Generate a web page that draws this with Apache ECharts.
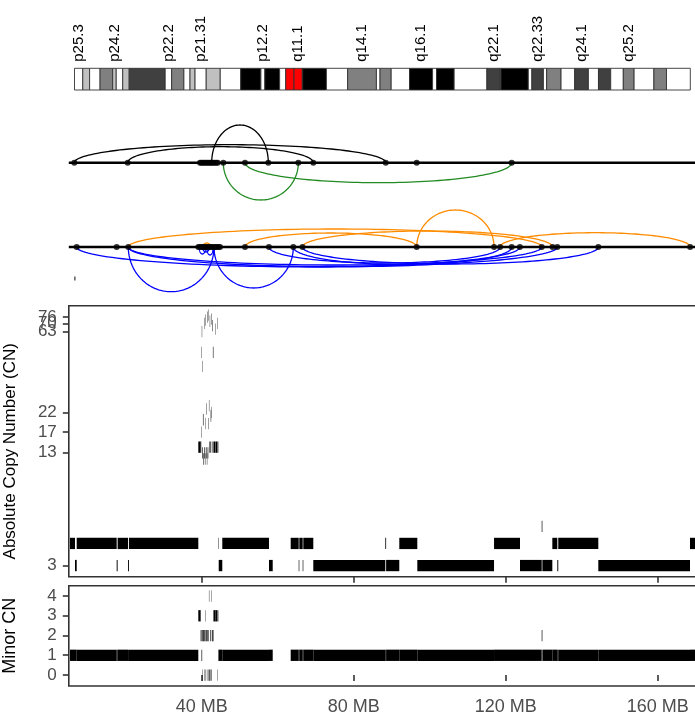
<!DOCTYPE html>
<html><head><meta charset="utf-8">
<script src="https://cdn.jsdelivr.net/npm/echarts@6/dist/echarts.min.js"></script>
<style>html,body{margin:0;padding:0;background:#fff}#c{width:695px;height:720px}</style>
</head><body><div id="c"></div>
<script>
const FONT = "'Liberation Sans', Arial, Helvetica, sans-serif";

// ---------- Ideogram (chr6, MB) ----------
const chrLength = 171.115;
const ideoBands = [
  [0, 2.3, 'p25.3', 'gneg'], [2.3, 4.2, 'p25.2', 'gpos25'], [4.2, 7.1, 'p25.1', 'gneg'],
  [7.1, 10.6, 'p24.3', 'gpos50'], [10.6, 11.6, 'p24.2', 'gpos25'], [11.6, 13.4, 'p24.1', 'gneg'],
  [13.4, 15.2, 'p23', 'gpos25'], [15.2, 25.2, 'p22.3', 'gpos75'], [25.2, 27.0, 'p22.2', 'gneg'],
  [27.0, 30.4, 'p22.1', 'gpos50'], [30.4, 32.1, 'p21.33', 'gneg'], [32.1, 33.5, 'p21.32', 'gpos25'],
  [33.5, 36.6, 'p21.31', 'gneg'], [36.6, 40.5, 'p21.2', 'gpos25'], [40.5, 46.2, 'p21.1', 'gneg'],
  [46.2, 51.8, 'p12.3', 'gpos100'], [51.8, 52.9, 'p12.2', 'gneg'], [52.9, 57.0, 'p12.1', 'gpos100'],
  [57.0, 58.7, 'p11.2', 'gneg'], [58.7, 61.0, 'p11.1', 'acen'], [61.0, 63.3, 'q11.1', 'acen'],
  [63.3, 63.4, 'q11.2', 'gneg'], [63.4, 70.0, 'q12', 'gpos100'], [70.0, 75.9, 'q13', 'gneg'],
  [75.9, 83.9, 'q14.1', 'gpos50'], [83.9, 84.9, 'q14.2', 'gneg'], [84.9, 88.0, 'q14.3', 'gpos50'],
  [88.0, 93.1, 'q15', 'gneg'], [93.1, 99.5, 'q16.1', 'gpos100'], [99.5, 100.6, 'q16.2', 'gneg'],
  [100.6, 105.5, 'q16.3', 'gpos100'], [105.5, 114.6, 'q21', 'gneg'], [114.6, 118.3, 'q22.1', 'gpos75'],
  [118.3, 118.5, 'q22.2', 'gneg'], [118.5, 126.1, 'q22.31', 'gpos100'], [126.1, 127.1, 'q22.32', 'gneg'],
  [127.1, 130.3, 'q22.33', 'gpos75'], [130.3, 131.2, 'q23.1', 'gneg'], [131.2, 135.2, 'q23.2', 'gpos50'],
  [135.2, 139.0, 'q23.3', 'gneg'], [139.0, 142.8, 'q24.1', 'gpos75'], [142.8, 145.6, 'q24.2', 'gneg'],
  [145.6, 149.0, 'q24.3', 'gpos75'], [149.0, 152.5, 'q25.1', 'gneg'], [152.5, 155.5, 'q25.2', 'gpos50'],
  [155.5, 161.0, 'q25.3', 'gneg'], [161.0, 164.5, 'q26', 'gpos50'], [164.5, 171.115, 'q27', 'gneg']
];
const labeledBands = ['p25.3','p24.2','p22.2','p21.31','p12.2','q11.1','q14.1','q16.1','q22.1','q22.33','q24.1','q25.2'];
const stainColors = {gneg:'#ffffff', gpos25:'#c0c0c0', gpos50:'#808080', gpos75:'#404040', gpos100:'#000000', acen:'#ff0000'};

// ---------- shared genomic x axis (MB) ----------
const xRange = [5.0, 171.1];
const xTicks = [40, 80, 120, 160];

// ---------- SV track 1: inversions ----------
const svUpperPoints = [6.45, 20.5, 39.53, 39.9, 40.3, 40.7, 41.1, 41.5, 41.89, 42.25, 42.6, 43.0, 43.4, 43.8, 44.2, 45.66,
  51.37, 57.5, 65.4, 69.34, 88.4, 96.55, 121.55];
const h2hInvArcs = [ [6.45, 88.4, 18], [20.5, 69.34, 16], [42.6, 57.5, 37.7] ];      // pos1, pos2, arc height
const t2tInvArcs = [ [45.66, 65.4, 37.3], [51.37, 121.55, 20] ];

// ---------- SV track 2: deletions / duplications ----------
const svLowerPoints = [7.08, 17.6, 20.66, 39.08, 39.5, 39.9, 40.3, 40.7, 41.1, 41.5, 41.9, 42.3, 42.7, 43.2, 43.6, 44.0, 44.4, 44.79,
  51.37, 57.66, 64.08, 66.5, 96.55, 116.9, 118.5, 121.55, 123.7, 129.45, 132.3, 133.55, 144.34, 168.5];
const delArcs = [ [20.66, 129.45, 18], [51.37, 96.55, 14], [66.5, 132.3, 16], [96.55, 116.9, 37], [118.5, 168.5, 14.3], [40.3, 42.3, 4] ];
const dupArcs = [ [7.08, 133.55, 20], [20.66, 129.45, 18], [20.66, 123.7, 19.5], [57.66, 118.5, 16], [66.5, 144.34, 17],
  [64.08, 121.55, 17.5], [20.66, 43.2, 44.7], [43.2, 64.08, 41], [39.3, 41.0, 7], [40.2, 42.0, 5], [41.3, 43.0, 8] ];
const svLowerMarks = [ [6.6, -31.5] ];

// ---------- copy number segments: start MB, end MB, total CN, minor CN ----------
const cnSegments = [
  [5.32, 6.63, 4, 1], [6.63, 7.08, 3, 1], [7.08, 17.6, 4, 1], [17.6, 17.85, 3, 1], [17.85, 20.58, 4, 1],
  [20.58, 20.82, 3, 1], [20.82, 39.08, 4, 1],
  [39.08, 39.70, 14, 3], [39.70, 39.85, 14, 2], [39.85, 39.92, 17, 1], [39.92, 40.00, 48, 2], [40.00, 40.06, 63, 1],
  [40.06, 40.14, 40, 0], [40.14, 40.30, 13, 2], [40.30, 40.44, 20, 2], [40.44, 40.60, 12, 2], [40.60, 40.68, 70, 0],
  [40.68, 40.84, 13, 2], [40.84, 40.92, 19, 2], [40.92, 41.00, 12, 0], [41.00, 41.06, 73, 3], [41.06, 41.24, 13, 2],
  [41.24, 41.34, 23, 2], [41.34, 41.44, 12, 0], [41.44, 41.54, 76, 2], [41.54, 41.70, 13, 2], [41.70, 41.80, 19, 0],
  [41.80, 41.88, 78, 2], [41.88, 41.96, 24, 4], [41.96, 42.10, 14, 0], [42.10, 42.18, 72, 0], [42.18, 42.34, 14, 2],
  [42.34, 42.46, 21, 0], [42.46, 42.56, 74, 0], [42.56, 42.64, 22, 4], [42.64, 42.80, 14, 2], [42.80, 42.92, 68, 2],
  [42.92, 43.06, 48, 2], [43.06, 43.50, 14, 3], [43.50, 43.58, 65, 3], [43.58, 44.10, 14, 3], [44.10, 44.18, 70, 0],
  [44.18, 44.34, 14, 3],
  [44.34, 44.45, 4, 1], [44.45, 45.39, 3, 1], [45.39, 57.68, 4, 1], [57.68, 58.66, 3, 1],
  [63.39, 65.5, 4, 1], [65.5, 65.66, 3, 1], [65.66, 66.55, 4, 1], [66.55, 66.71, 3, 1], [66.71, 69.34, 4, 1],
  [69.34, 88.29, 3, 1], [88.29, 88.5, 4, 1], [88.5, 91.97, 3, 1], [91.97, 96.71, 4, 1], [96.71, 116.9, 3, 1],
  [116.9, 123.74, 4, 1], [123.74, 129.45, 3, 1], [129.45, 129.62, 5, 2], [129.62, 132.24, 3, 1],
  [132.24, 133.55, 4, 1], [133.55, 133.8, 3, 1], [133.8, 144.34, 4, 1], [144.34, 168.47, 3, 1], [168.47, 171.1, 4, 1]
];
// CN tick labels, split into groups so that the tightly packed top labels are all kept
const cnTickGroups = [[3, 13, 17, 22, 63], [70], [76]];
const cnRange = [2.59, 88.1];
const minorTicks = [0, 1, 2, 3, 4];
const minorRange = [-0.557, 4.52];

// ---------- layout ----------
const L = 68.8, W = 631.2;
const chart = echarts.init(document.getElementById('c'), null, {renderer: 'canvas'});

function hiddenAxis(gi, min, max) { return {gridIndex: gi, type: 'value', min, max, show: false}; }

// half-ellipse arc between two breakpoints, height given in track units
function arcRender(dir, color) {
  return function (params, api) {
    const a = api.coord([api.value(0), 0]), b = api.coord([api.value(1), 0]);
    const h = api.size([0, api.value(2)])[1] * dir;
    const cx = (a[0] + b[0]) / 2, rx = (b[0] - a[0]) / 2, pts = [];
    for (let i = 0; i <= 80; i++) {
      const t = Math.PI * i / 80;
      pts.push([cx - rx * Math.cos(t), a[1] + h * Math.sin(t)]);
    }
    return {type: 'polyline', shape: {points: pts}, style: {stroke: color, fill: null, lineWidth: 1.3}};
  };
}
function segRender(params, api) {
  const p1 = api.coord([api.value(0), api.value(2)]), p2 = api.coord([api.value(1), api.value(2)]);
  return {type: 'rect', shape: {x: p1[0], y: p1[1] - 5.6, width: Math.max(p2[0] - p1[0], 0.35), height: 11.3}, style: {fill: '#000'}};
}
function ideoRender(params, api) {
  const d = ideoBands[params.dataIndex];
  const p1 = api.coord([d[0], 1]), p2 = api.coord([d[1], 0]);
  const children = [{type: 'rect', shape: {x: p1[0], y: p1[1], width: p2[0] - p1[0], height: p2[1] - p1[1]},
    style: {fill: stainColors[d[3]], stroke: '#333', lineWidth: 0.9}}];
  if (labeledBands.indexOf(d[2]) >= 0) {
    children.push({type: 'text', x: (p1[0] + p2[0]) / 2, y: p1[1] - 6.5, rotation: Math.PI / 2,
      style: {text: d[2], fill: '#000', fontSize: 15, fontFamily: FONT, align: 'left', verticalAlign: 'middle'}});
  }
  return {type: 'group', children};
}

const baseLine = [[xRange[0], 0], [xRange[1], 0]];
const tickStyle = {show: true, length: 6, lineStyle: {color: '#333', width: 1.6}};
const labelStyle = {color: '#4d4d4d', fontSize: 17, fontFamily: FONT, hideOverlap: false, showMinLabel: true, showMaxLabel: true};
const gridBase = {outerBoundsMode: 'none', containLabel: false};
const cnFmt = v => String(Math.round(Math.pow(10, v)));

function cnAxis(ticks, withName) {
  const ax = {gridIndex: 3, type: 'value', position: 'left', offset: 0,
    min: Math.log10(cnRange[0]), max: Math.log10(cnRange[1]), axisLine: {show: false}, splitLine: {show: false},
    axisTick: Object.assign({customValues: ticks.map(Math.log10)}, tickStyle),
    axisLabel: Object.assign({}, labelStyle, {customValues: ticks.map(Math.log10), margin: 12, formatter: cnFmt})};
  if (withName) Object.assign(ax, {name: 'Absolute Copy Number (CN)', nameLocation: 'middle', nameGap: 50, nameRotate: 90,
    nameTextStyle: {fontSize: 17, color: '#000', fontFamily: FONT, padding: [0, 20, 0, 0]}});
  return ax;
}

const option = {
  animation: false,
  backgroundColor: '#fff',
  grid: [
    Object.assign({left: 74.5, top: 68.3, width: 615.8, height: 21.7, show: false}, gridBase),
    Object.assign({left: L, top: 112.7, width: W, height: 100, show: false}, gridBase),
    Object.assign({left: L, top: 197, width: W, height: 100, show: false}, gridBase),
    Object.assign({left: L, top: 305.7, width: W, height: 271.1, show: true, borderColor: '#333', borderWidth: 1.6, backgroundColor: 'transparent'}, gridBase),
    Object.assign({left: L, top: 585.7, width: W, height: 100.3, show: true, borderColor: '#333', borderWidth: 1.6, backgroundColor: 'transparent'}, gridBase)
  ],
  xAxis: [
    hiddenAxis(0, 0, chrLength),
    hiddenAxis(1, xRange[0], xRange[1]),
    hiddenAxis(2, xRange[0], xRange[1]),
    {gridIndex: 3, type: 'value', min: xRange[0], max: xRange[1], axisLine: {show: false}, splitLine: {show: false},
      axisTick: Object.assign({customValues: xTicks}, tickStyle), axisLabel: {show: false, customValues: xTicks}},
    {gridIndex: 4, type: 'value', min: xRange[0], max: xRange[1], axisLine: {show: false}, splitLine: {show: false},
      axisTick: Object.assign({customValues: xTicks}, tickStyle),
      axisLabel: Object.assign({}, labelStyle, {customValues: xTicks, margin: 12, fontSize: 18, formatter: v => v + ' MB'})}
  ],
  yAxis: [
    hiddenAxis(0, 0, 1),
    hiddenAxis(1, -50, 50),
    hiddenAxis(2, -50, 50),
    cnAxis(cnTickGroups[0], true),
    {gridIndex: 4, type: 'value', min: minorRange[0], max: minorRange[1], axisLine: {show: false}, splitLine: {show: false},
      axisTick: Object.assign({customValues: minorTicks}, tickStyle),
      axisLabel: Object.assign({}, labelStyle, {customValues: minorTicks, margin: 12}),
      name: 'Minor CN', nameLocation: 'middle', nameGap: 50, nameRotate: 90,
      nameTextStyle: {fontSize: 18, color: '#000', fontFamily: FONT}},
    cnAxis(cnTickGroups[1], false),
    cnAxis(cnTickGroups[2], false)
  ],
  series: [
    {type: 'custom', xAxisIndex: 0, yAxisIndex: 0, renderItem: ideoRender, data: ideoBands.map(d => [d[0], d[1]]), encode: {x: [0, 1]}, z: 2},
    // track 1
    {type: 'custom', xAxisIndex: 1, yAxisIndex: 1, renderItem: arcRender(-1, '#000000'), data: h2hInvArcs, encode: {x: [0, 1]}, z: 2},
    {type: 'custom', xAxisIndex: 1, yAxisIndex: 1, renderItem: arcRender(1, '#228B22'), data: t2tInvArcs, encode: {x: [0, 1]}, z: 2},
    {type: 'line', xAxisIndex: 1, yAxisIndex: 1, data: baseLine, showSymbol: false, lineStyle: {color: '#000', width: 2.6}, z: 3, silent: true},
    {type: 'scatter', xAxisIndex: 1, yAxisIndex: 1, data: svUpperPoints.map(p => [p, 0]), symbolSize: 6, itemStyle: {color: '#000'}, z: 4},
    // track 2
    {type: 'custom', xAxisIndex: 2, yAxisIndex: 2, renderItem: arcRender(-1, '#FF8C00'), data: delArcs, encode: {x: [0, 1]}, z: 2},
    {type: 'custom', xAxisIndex: 2, yAxisIndex: 2, renderItem: arcRender(1, '#0000FF'), data: dupArcs, encode: {x: [0, 1]}, z: 2},
    {type: 'line', xAxisIndex: 2, yAxisIndex: 2, data: baseLine, showSymbol: false, lineStyle: {color: '#000', width: 2.6}, z: 3, silent: true},
    {type: 'scatter', xAxisIndex: 2, yAxisIndex: 2, data: svLowerPoints.map(p => [p, 0]), symbolSize: 6, itemStyle: {color: '#000'}, z: 4},
    {type: 'scatter', xAxisIndex: 2, yAxisIndex: 2, data: svLowerMarks, symbol: 'rect', symbolSize: [1.2, 4], itemStyle: {color: '#000'}, z: 4},
    // copy number
    {type: 'custom', xAxisIndex: 3, yAxisIndex: 3, renderItem: segRender, data: cnSegments.map(d => [d[0], d[1], Math.log10(d[2])]), encode: {x: [0, 1], y: 2}, z: 2},
    {type: 'custom', xAxisIndex: 4, yAxisIndex: 4, renderItem: segRender, data: cnSegments.map(d => [d[0], d[1], d[3]]), encode: {x: [0, 1], y: 2}, z: 2}
  ]
};
chart.setOption(option);
</script></body></html>
